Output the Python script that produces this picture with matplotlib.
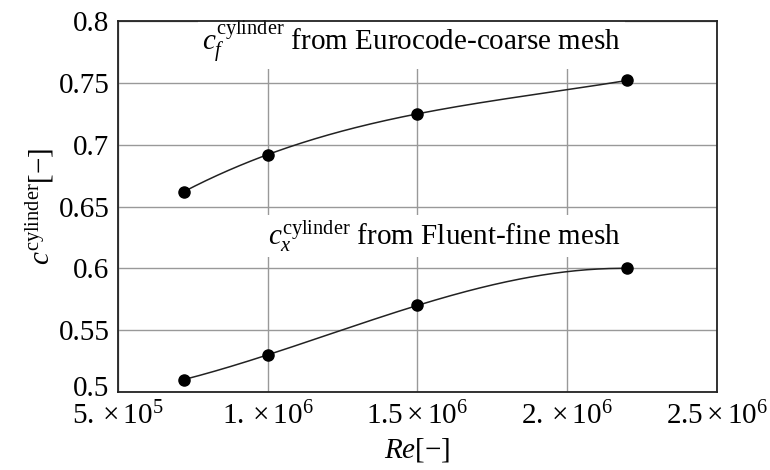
import matplotlib
matplotlib.use("Agg")
import matplotlib.pyplot as plt
import matplotlib.transforms as mtransforms
import numpy as np

# Reynolds numbers and force coefficients
re_vals = [7.2e5, 1.0e6, 1.5e6, 2.2e6]
cf_eurocode = [0.662, 0.692, 0.725, 0.752]
cx_fluent = [0.510, 0.530, 0.570, 0.600]

x_ticks = [5e5, 1e6, 1.5e6, 2e6, 2.5e6]
x_ticklabels = [r"$5.\times10^{5}$", r"$1.\times10^{6}$", r"$1.5\times10^{6}$",
                r"$2.\times10^{6}$", r"$2.5\times10^{6}$"]
y_ticks = [0.5, 0.55, 0.6, 0.65, 0.7, 0.75, 0.8]
y_ticklabels = ["0.5", "0.55", "0.6", "0.65", "0.7", "0.75", "0.8"]

plt.rcParams["font.family"] = "Liberation Serif"
plt.rcParams["mathtext.fontset"] = "custom"
plt.rcParams["mathtext.rm"] = "Liberation Serif"
plt.rcParams["mathtext.it"] = "Liberation Serif:italic"
plt.rcParams["mathtext.bf"] = "Liberation Serif:bold"

fs = 21

fig = plt.figure(figsize=(7.7, 4.7), dpi=100)
ax = fig.add_axes([0.153, 0.166, 0.778, 0.789])


def smooth(x, y):
    # cubic through the four measured points, just for drawing the curve
    xs = np.asarray(x) / 1e6
    coef = np.polyfit(xs, y, 3)
    xx = np.linspace(xs.min(), xs.max(), 200)
    return xx * 1e6, np.polyval(coef, xx)


for ys in (cf_eurocode, cx_fluent):
    sx, sy = smooth(re_vals, ys)
    ax.plot(sx, sy, color="#222222", lw=1.1, zorder=3)
    ax.plot(re_vals, ys, "o", color="black", ms=8, zorder=4)

ax.set_xlim(5e5, 2.5e6)
ax.set_ylim(0.5, 0.8)
ax.set_xticks(x_ticks)
ax.set_xticklabels(x_ticklabels)
ax.set_yticks(y_ticks)
ax.set_yticklabels(y_ticklabels)
ax.tick_params(length=0, labelsize=fs)
ax.tick_params(axis="y", pad=6)
ax.tick_params(axis="x", pad=7)
ax.grid(True, color="#999999", lw=1.0, zorder=1)
ax.set_axisbelow(True)
for s in ax.spines.values():
    s.set_linewidth(1.3)
    s.set_color("#222222")
    s.set_zorder(6)

# nudge the lowest y label up a little so it clears the first x label
lbl = ax.get_yticklabels()[0]
lbl.set_transform(lbl.get_transform() +
                  mtransforms.ScaledTranslation(0, 4 / 72, fig.dpi_scale_trans))

ax.text(1.48e6, 0.783, r"$c_f^{\mathrm{cylinder}}$ from Eurocode-coarse mesh",
        fontsize=fs, ha="center", va="center", zorder=2,
        bbox=dict(facecolor="white", edgecolor="none", pad=3))
ax.text(1.59e6, 0.626, r"$c_x^{\mathrm{cylinder}}$ from Fluent-fine mesh",
        fontsize=fs, ha="center", va="center", zorder=2,
        bbox=dict(facecolor="white", edgecolor="none", pad=2))

ax.set_xlabel(r"$Re[-]$", fontsize=fs, labelpad=4)
ax.set_ylabel(r"$c^{\mathrm{cylinder}}[-]$", fontsize=fs, labelpad=2)

fig.savefig("out.png", dpi=100)
